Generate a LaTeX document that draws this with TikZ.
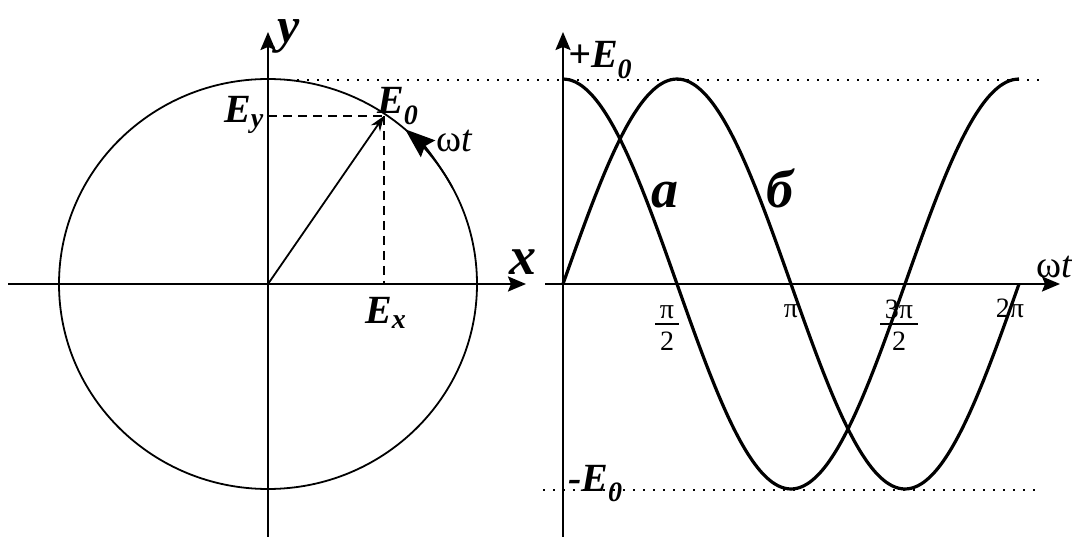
\documentclass[tikz,border=0pt]{standalone}
\usepackage{fontspec}
\setmainfont{Liberation Serif}
\usetikzlibrary{arrows.meta}
\tikzset{
axis/.style={line width=2.2pt, -{Stealth[length=18pt, width=15pt, inset=3pt]}},
curve/.style={line width=3.2pt},
wheel/.style={line width=1.8pt},
proj/.style={line width=1.8pt, dash pattern=on 9pt off 6pt},
guide/.style={line width=1.6pt, dash pattern=on 1.6pt off 8.4pt},
lbl/.style={font=\fontsize{40}{42}\selectfont\bfseries\itshape, inner sep=0pt},
big/.style={font=\fontsize{54}{56}\selectfont\bfseries\itshape, inner sep=0pt},
phase/.style={font=\fontsize{38}{40}\selectfont, inner sep=0pt},
tick/.style={font=\fontsize{28}{30}\selectfont, inner sep=0pt}
}
\newcommand{\pifrac}[2]{{\setlength{\arrayrulewidth}{2pt}%
\begin{tabular}{@{\,}c@{\,}}#1\\[-4pt]\hline\rule{0pt}{25pt}#2\end{tabular}}}
\newcommand{\Esub}[1]{\textit{E}\textsubscript{\textit{#1}}}

\begin{document}
\begin{tikzpicture}[x=1pt, y=-1pt]
\useasboundingbox (0,0) rectangle (1072,537);

% left: rotating vector
\coordinate (c_origin) at (268,284);
\coordinate (e_tip) at (384,116);
\coordinate (ey_foot) at (268,116);
\coordinate (ex_foot) at (384,284);
\coordinate (xaxis_start) at (8,284);
\coordinate (xaxis_end) at (526,284);
\coordinate (yaxis_start) at (268,537);
\coordinate (yaxis_end) at (268,32);

\draw [wheel] (c_origin) ellipse [x radius=209pt, y radius=205pt];
\draw [axis] (xaxis_start) -- (xaxis_end);
\draw [axis] (yaxis_start) -- (yaxis_end);
\draw [proj] (ey_foot) -- (e_tip);
\draw [proj] (e_tip) -- (ex_foot);
\draw [wheel, -{Stealth[length=15pt, width=11pt]}] (c_origin) -- (e_tip);
\draw [wheel, -{Stealth[length=30pt, width=22pt, inset=4pt]}]
      ([shift={(28:209pt and 205pt)}]c_origin)
      arc [start angle=28, end angle=49, x radius=209pt, y radius=205pt];

\node (y_label) [big, font=\fontsize{50}{52}\selectfont\bfseries\itshape, anchor=base] at (289,43) {y};
\node (x_label) [big, anchor=base] at (523,275) {x};
\node (ey_label) [lbl, anchor=base east] at (264,123) {\Esub{y}};
\node (e0_label) [lbl, anchor=base west] at (377,114) {\Esub{0}};
\node (ex_label) [lbl, anchor=base west] at (365,324) {\Esub{x}};
\node (wt_left) [phase, anchor=base west] at (436,152) {ω\textit{t}};

% right: time plots
\coordinate (w_origin) at (563,284);
\coordinate (taxis_start) at (545,284);
\coordinate (taxis_end) at (1060,284);
\coordinate (vaxis_start) at (563,537);
\coordinate (vaxis_end) at (563,32);
\coordinate (top_from) at (297,80);
\coordinate (top_to) at (1040,80);
\coordinate (bot_from) at (543,490);
\coordinate (bot_to) at (1040,490);

\draw [guide] (top_from) -- (top_to);
\draw [guide] (bot_from) -- (bot_to);
\draw [axis] (taxis_start) -- (taxis_end);
\draw [axis] (vaxis_start) -- (vaxis_end);
\draw [curve] plot [smooth, domain=0:360, samples=73] ({563+1.26667*\x}, {284-205*cos(\x)});
\draw [curve] plot [smooth, domain=0:360, samples=73] ({563+1.26667*\x}, {284-205*sin(\x)});

\node (plus_e0) [lbl, anchor=base west] at (568,68) {+\Esub{0}};
\node (minus_e0) [lbl, anchor=base west] at (568,491) {-\Esub{0}};
\node (curve_a) [big, anchor=base] at (665,208) {a};
\node (curve_b) [big, anchor=base] at (780,208) {б};
\node (wt_right) [phase, anchor=base west] at (1036,278) {ω\textit{t}};

\node (half_pi) [tick, anchor=north] at (667,297) {\pifrac{π}{2}};
\node (one_pi) [tick, anchor=base] at (791,318) {π};
\node (three_half_pi) [tick, anchor=north] at (899,297) {\pifrac{3π}{2}};
\node (two_pi) [tick, anchor=base] at (1010,318) {2π};

\end{tikzpicture}
\end{document}
